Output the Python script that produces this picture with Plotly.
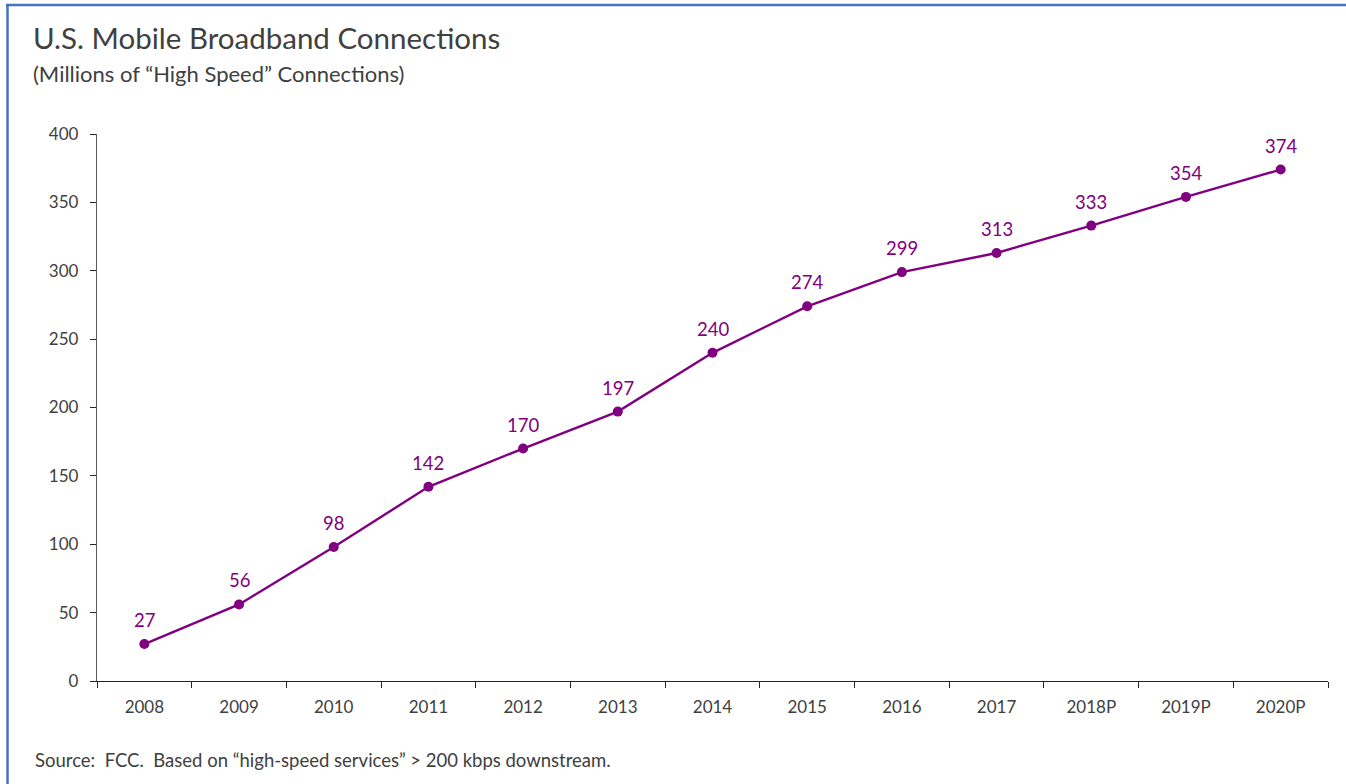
import plotly.graph_objects as go

# Mobile broadband connections, millions (P = projected)
years = ["2008", "2009", "2010", "2011", "2012", "2013", "2014",
         "2015", "2016", "2017", "2018P", "2019P", "2020P"]
connections = [27, 56, 98, 142, 170, 197, 240, 274, 299, 313, 333, 354, 374]
y_ticks = [0, 50, 100, 150, 200, 250, 300, 350, 400]

PURPLE = "#800080"
FONT = "Lato"
TEXT = "#404040"
W, H = 1346, 784
L, R, T, B = 97, 18, 134, 103
pw, ph = W - L - R, H - T - B


def px_x(x):
    return (x - L) / pw


def px_y(y):
    return (H - B - y) / ph


fig = go.Figure()
fig.add_trace(go.Scatter(
    x=years, y=connections,
    mode="lines+markers",
    line=dict(color=PURPLE, width=2.4),
    marker=dict(color=PURPLE, size=10),
    hoverinfo="x+y",
    showlegend=False,
))

fig.update_layout(
    width=W, height=H,
    margin=dict(l=L, r=R, t=T, b=B),
    paper_bgcolor="white", plot_bgcolor="white",
    font=dict(family=FONT, color=TEXT),
    xaxis=dict(
        type="category", showgrid=False,
        showline=True, linecolor="#262626", linewidth=1.3,
        ticks="outside", ticklen=6, tickcolor="#262626",
        tickson="boundaries", ticklabelstandoff=10,
        tickfont=dict(family=FONT, size=17, color=TEXT),
        range=[-0.5, len(years) - 0.5],
    ),
    yaxis=dict(
        range=[0, 400], tickvals=y_ticks, showgrid=False, zeroline=False,
        showline=True, linecolor="#595959", linewidth=1.3,
        ticks="outside", ticklen=6, tickcolor="#262626",
        ticklabelstandoff=8,
        tickfont=dict(family=FONT, size=17, color=TEXT),
    ),
    shapes=[
        dict(type="line", xref="paper", yref="paper",
             x0=px_x(7.5), x1=px_x(7.5), y0=px_y(5), y1=px_y(H + 5),
             line=dict(color="#4472C4", width=2.5)),
        dict(type="line", xref="paper", yref="paper",
             x0=px_x(6), x1=px_x(W + 5), y0=px_y(5), y1=px_y(5),
             line=dict(color="#4472C4", width=2.5)),
    ],
)

# value labels above each point (category index, since "2008" etc. look numeric)
for i, v in enumerate(connections):
    fig.add_annotation(x=i, y=v, text=str(v), showarrow=False,
                       yshift=24, font=dict(family=FONT, size=18.5, color=PURPLE))

fig.add_annotation(text="U.S. Mobile Broadband Connections", xref="paper", yref="paper",
                   x=px_x(31), y=px_y(38), xanchor="left", yanchor="middle", showarrow=False,
                   font=dict(family=FONT, size=29.5, color=TEXT))
fig.add_annotation(text="(Millions of \u201cHigh Speed\u201d Connections)", xref="paper", yref="paper",
                   x=px_x(31), y=px_y(74), xanchor="left", yanchor="middle", showarrow=False,
                   font=dict(family=FONT, size=22, color=TEXT))
fig.add_annotation(text="Source:  FCC.  Based on \u201chigh-speed services\u201d > 200 kbps downstream.",
                   xref="paper", yref="paper",
                   x=px_x(33), y=px_y(760), xanchor="left", yanchor="middle", showarrow=False,
                   font=dict(family=FONT, size=18.5, color=TEXT))

fig.write_html("out.html")
